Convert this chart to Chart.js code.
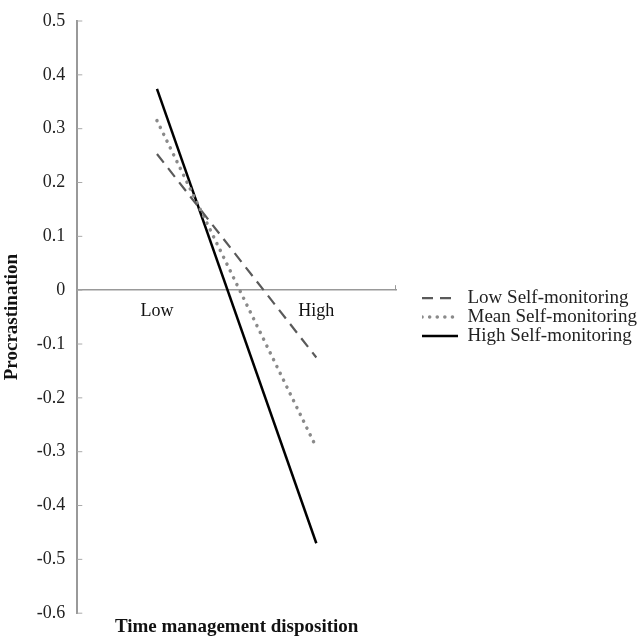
<!DOCTYPE html>
<html>
<head>
<meta charset="utf-8">
<script src="https://cdn.jsdelivr.net/npm/chart.js@4"></script>
<style>
  html, body { margin: 0; padding: 0; background: #fff; }
  #wrap { width: 641px; height: 638px; }
</style>
</head>
<body>
<div id="wrap"><canvas id="myChart"></canvas></div>
<script>
// categories and values
var categories = ['Low', 'High'];
var lowSelfMonitoring = [0.253, -0.125];
var meanSelfMonitoring = [0.315, -0.292];
var highSelfMonitoring = [0.374, -0.47];
var yMin = -0.6, yMax = 0.5, yStep = 0.1;

var serif = 'Liberation Serif';

// small inward ticks on the y axis and an end tick on the zero line
var axisTicks = {
    id: 'axisTicks',
    afterDraw: function (chart) {
        var ctx = chart.ctx;
        var y = chart.scales.y;
        var x = chart.scales.x;
        ctx.save();
        ctx.strokeStyle = '#aaa';
        ctx.lineWidth = 1;
        y.ticks.forEach(function (t) {
            var py = y.getPixelForValue(t.value);
            ctx.beginPath();
            ctx.moveTo(y.right, py);
            ctx.lineTo(y.right + 5, py);
            ctx.stroke();
        });
        var y0 = y.getPixelForValue(0);
        ctx.strokeStyle = '#999';
        ctx.beginPath();
        ctx.moveTo(x.right - 0.5, y0);
        ctx.lineTo(x.right - 0.5, y0 - 5);
        ctx.stroke();
        ctx.restore();
    }
};

// side legends are capped at a fraction of the width, let this one be wider
var wideLegend = {
    id: 'wideLegend',
    beforeLayout: function (chart) {
        var lg = chart.legend;
        if (lg && !lg._wide) {
            var fit = lg.fit;
            lg.fit = function () {
                this.maxWidth = Math.max(this.maxWidth, 260);
                fit.call(this);
            };
            lg._wide = true;
        }
    }
};

var ctx = document.getElementById('myChart').getContext('2d');
var chart = new Chart(ctx, {
    type: 'line',
    data: {
        labels: categories,
        datasets: [{
            label: 'Low Self-monitoring',
            data: lowSelfMonitoring,
            borderColor: '#5a5a5a',
            borderWidth: 2.2,
            borderDash: [11, 7],
            pointRadius: 0
        }, {
            label: 'Mean Self-monitoring',
            data: meanSelfMonitoring,
            borderColor: '#8a8a8a',
            borderWidth: 3.5,
            borderDash: [0.1, 7.5],
            borderCapStyle: 'round',
            pointRadius: 0
        }, {
            label: 'High Self-monitoring',
            data: highSelfMonitoring,
            borderColor: '#000',
            borderWidth: 2.5,
            pointRadius: 0
        }]
    },
    options: {
        responsive: true,
        maintainAspectRatio: false,
        animation: false,
        layout: { padding: { top: 5, right: 0, left: 1, bottom: 0 } },
        plugins: {
            tooltip: { enabled: false },
            legend: {
                position: 'right',
                fullSize: false,
                maxWidth: 219,
                labels: {
                    usePointStyle: true,
                    pointStyle: 'line',
                    pointStyleWidth: 36,
                    padding: 0,
                    color: '#222',
                    font: { family: serif, size: 19 },
                    generateLabels: function (chart) {
                        return chart.data.datasets.map(function (ds, i) {
                            return {
                                text: ds.label,
                                fillStyle: ds.borderColor,
                                strokeStyle: ds.borderColor,
                                lineWidth: ds.borderWidth,
                                lineDash: ds.borderDash || [],
                                lineCap: ds.borderCapStyle || 'butt',
                                pointStyle: 'line',
                                fontColor: '#222',
                                hidden: false,
                                datasetIndex: i
                            };
                        });
                    }
                }
            }
        },
        scales: {
            x: {
                type: 'category',
                position: { y: 0 },
                offset: true,
                grid: { display: false, drawTicks: false },
                border: { display: true, color: '#999', width: 1.5 },
                ticks: { color: '#111', padding: 10, font: { family: serif, size: 18 } }
            },
            x2: {
                type: 'category',
                position: 'bottom',
                grid: { display: false, drawTicks: false },
                border: { display: false },
                ticks: { display: false },
                title: {
                    display: true,
                    text: 'Time management disposition',
                    color: '#111',
                    font: { family: serif, size: 19, weight: 'bold' },
                    padding: { top: 2, bottom: 0 }
                }
            },
            y: {
                min: yMin,
                max: yMax,
                grid: { display: false, drawTicks: false },
                border: { display: true, color: '#999', width: 2 },
                ticks: {
                    stepSize: yStep,
                    color: '#222',
                    padding: 12,
                    font: { family: serif, size: 18, lineHeight: 1 },
                    callback: function (v) { return String(Number(v.toFixed(1))); }
                },
                title: {
                    display: true,
                    text: 'Procrastination',
                    color: '#111',
                    font: { family: serif, size: 19, weight: 'bold' },
                    padding: { top: 0, bottom: 1 }
                }
            },
            // empty spacer between the plot and the legend
            gap: {
                type: 'linear',
                position: 'right',
                grid: { display: false, drawTicks: false },
                border: { display: false },
                ticks: { display: false },
                afterFit: function (scale) { scale.width = 26; }
            }
        }
    },
    plugins: [axisTicks, wideLegend]
});
</script>
</body>
</html>
